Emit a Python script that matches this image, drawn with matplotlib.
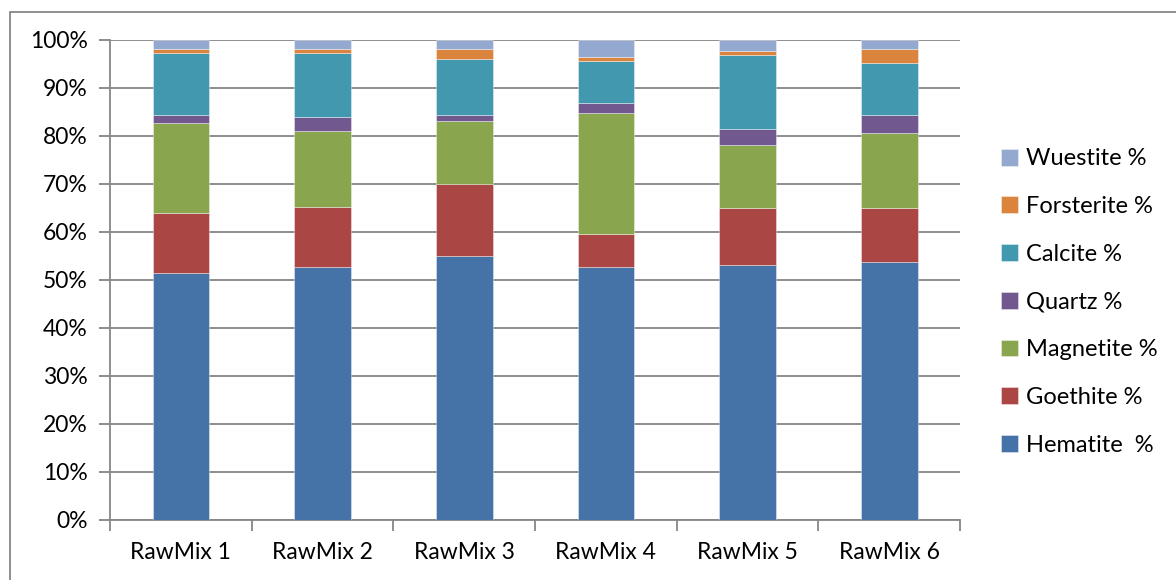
import numpy as np
import matplotlib.pyplot as plt
from matplotlib.patches import Rectangle

plt.rcParams['font.family'] = ['Lato', 'DejaVu Sans']

# ---- data (percent of each raw mix) ----
mixes = ['RawMix 1', 'RawMix 2', 'RawMix 3', 'RawMix 4', 'RawMix 5', 'RawMix 6']
hematite = [51.5, 52.8, 54.9, 52.8, 53.1, 53.7]
goethite = [12.5, 12.5, 15.0, 6.7, 11.8, 11.2]
magnetite = [18.8, 15.8, 13.3, 25.3, 13.2, 15.7]
quartz = [1.6, 2.9, 1.2, 2.1, 3.4, 3.8]
calcite = [12.9, 13.3, 11.6, 8.7, 15.4, 10.8]
forsterite = [0.8, 0.8, 2.1, 0.9, 0.8, 2.9]
wuestite = [1.9, 1.9, 1.9, 3.5, 2.3, 1.9]

series_names = ['Hematite  %', 'Goethite %', 'Magnetite %', 'Quartz %',
                'Calcite %', 'Forsterite %', 'Wuestite %']
series_values = [hematite, goethite, magnetite, quartz, calcite, forsterite, wuestite]
colors = ['#4572A7', '#AA4643', '#89A54E', '#71588F', '#4198AF', '#DB843D', '#93A9CF']

W, H = 1176, 580
fig = plt.figure(figsize=(W / 100, H / 100), dpi=100)
ax = fig.add_axes([110 / W, (H - 520) / H, (960 - 110) / W, (520 - 40) / H])

grey = '#868686'
x = np.arange(len(mixes))
bottom = np.zeros(len(mixes))
handles = []
for name, vals, c in zip(series_names, series_values, colors):
    vals = np.array(vals, dtype=float)
    b = ax.bar(x, vals, width=0.4, bottom=bottom, color=c, label=name,
               edgecolor=(1, 1, 1, 0.45), linewidth=0.6, zorder=3)
    handles.append(b)
    bottom += vals

ax.set_xlim(-0.5, len(mixes) - 0.5)
ax.set_ylim(0, 100)
ax.set_yticks(np.arange(0, 101, 10))
ax.set_yticklabels([f'{v}%' for v in range(0, 101, 10)])
ax.yaxis.grid(True, color=grey, linewidth=1.3, zorder=0)

# category boundary ticks below the axis, labels centred on bars
ax.set_xticks(np.arange(-0.5, len(mixes)))
ax.set_xticklabels([])
ax.set_xticks(x, minor=True)
ax.set_xticklabels(mixes, minor=True)
ax.tick_params(axis='x', which='major', length=8, width=1.3, color=grey)
ax.tick_params(axis='x', which='minor', length=0, pad=16, labelsize=16.5)
ax.tick_params(axis='y', length=8, width=1.3, color=grey, pad=8, labelsize=16.5)

for side in ['top', 'right']:
    ax.spines[side].set_visible(False)
for side in ['left', 'bottom']:
    ax.spines[side].set_color(grey)
    ax.spines[side].set_linewidth(1.3)

# legend, top entry is the last series
fig.legend(handles[::-1], series_names[::-1], loc='center left',
           bbox_to_anchor=(992 / W, 1 - 302 / H), frameon=False,
           fontsize=17, handlelength=0.72, handleheight=0.72,
           handletextpad=0.3, labelspacing=1.13, borderaxespad=0)

# chart border (runs off the right and bottom edges)
fig.patches.append(Rectangle((10 / W, -0.5), 2, 1.5 - 12 / H, transform=fig.transFigure,
                             fill=False, edgecolor=grey, linewidth=1.3))

fig.savefig('out.png', dpi=100)
